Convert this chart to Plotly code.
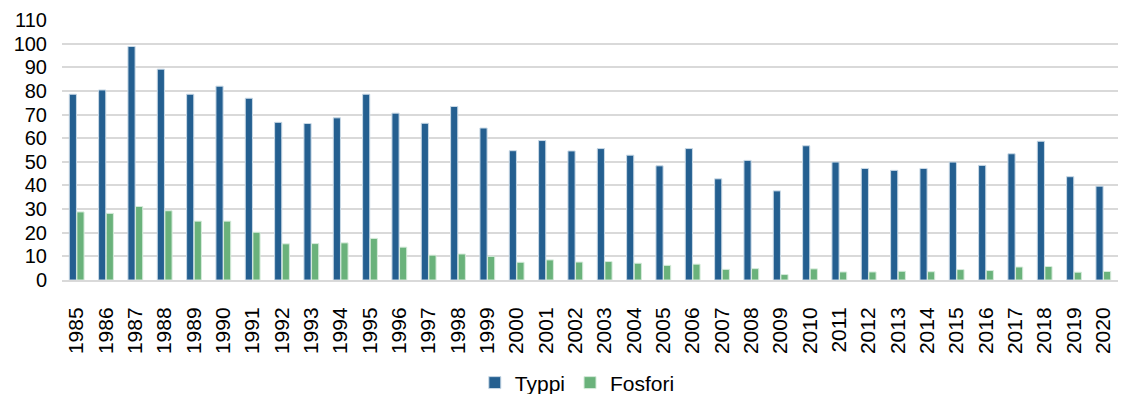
import plotly.graph_objects as go

years = [str(y) for y in range(1985, 2021)]

typpi = [78.6, 80.4, 98.8, 89.2, 78.6, 82.0, 76.9, 66.7, 66.2, 68.6,
         78.6, 70.6, 66.3, 73.4, 64.3, 54.7, 59.0, 54.6, 55.6, 52.8,
         48.3, 55.6, 42.8, 50.6, 37.7, 56.8, 49.9, 47.2, 46.4, 47.2,
         49.9, 48.5, 53.4, 58.7, 43.7, 39.7]

fosfori = [28.8, 28.2, 31.1, 29.3, 24.9, 24.9, 20.2, 15.3, 15.4, 15.7,
           17.6, 13.9, 10.5, 11.0, 10.0, 7.5, 8.5, 7.6, 7.8, 7.1,
           6.2, 6.7, 4.5, 4.8, 2.3, 4.7, 3.4, 3.4, 3.7, 3.5,
           4.4, 4.0, 5.5, 5.7, 3.3, 3.6]

y_ticks = list(range(0, 111, 10))

fig = go.Figure()
fig.add_trace(go.Bar(
    name="Typpi", x=years, y=typpi,
    marker=dict(color="#245f90", line=dict(color="#c9d9e6", width=1)),
))
fig.add_trace(go.Bar(
    name="Fosfori", x=years, y=fosfori,
    marker=dict(color="#6ab27b", line=dict(color="#d6ebdb", width=1)),
))

fig.update_layout(
    width=1121, height=394,
    margin=dict(l=62, r=3, t=20, b=114),
    paper_bgcolor="white", plot_bgcolor="white",
    barmode="group", bargap=0.48, bargroupgap=0.06,
    font=dict(family="Liberation Sans, Arial, sans-serif", color="#000000"),
    showlegend=True,
    legend=dict(orientation="h", x=0.515, xanchor="center", xref="container",
                y=0.028, yanchor="middle", yref="container",
                font=dict(size=21), itemwidth=30, traceorder="normal",
                tracegroupgap=0),
)
fig.update_xaxes(
    type="category", tickangle=-90, tickfont=dict(size=21),
    showgrid=False, showline=True, linecolor="#d9d9d9", linewidth=2,
    ticks="", ticklabelstandoff=17, automargin=False,
)
fig.update_yaxes(
    range=[0, 110], tickvals=y_ticks, tickfont=dict(size=20),
    showgrid=True, gridcolor="#d9d9d9", gridwidth=2,
    zeroline=False, showline=False, ticks="", ticklabelstandoff=14,
    automargin=False,
)

fig.write_html("out.html")
